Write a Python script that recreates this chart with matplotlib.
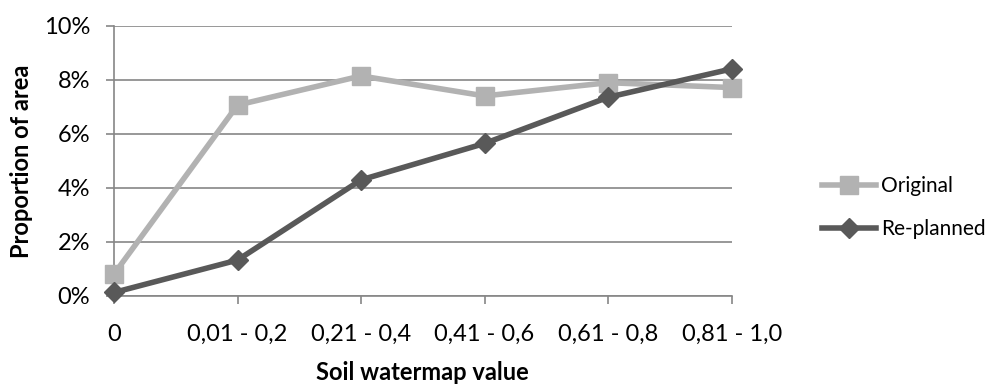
import matplotlib.pyplot as plt

plt.rcParams['font.family'] = ['Lato', 'DejaVu Sans']

categories = ["0", "0,01 - 0,2", "0,21 - 0,4", "0,41 - 0,6", "0,61 - 0,8", "0,81 - 1,0"]
original = [0.81, 7.07, 8.15, 7.41, 7.90, 7.72]
replanned = [0.13, 1.33, 4.30, 5.65, 7.36, 8.41]
yticks = [0, 2, 4, 6, 8, 10]

fig = plt.figure(figsize=(10.06, 3.85), dpi=100)
ax = fig.add_axes([0.1133, 0.2312, 0.614, 0.7013])

x = range(len(categories))
ax.plot(x, original, color="#b2b2b2", lw=4, marker="s", markersize=12.5,
        label="Original", clip_on=False, zorder=3)
ax.plot(x, replanned, color="#595959", lw=4, marker="D", markersize=10,
        label="Re-planned", clip_on=False, zorder=4)

ax.set_xlim(0, len(categories) - 1)
ax.set_ylim(0, 10)
ax.set_xticks(list(x))
ax.set_xticklabels(categories)
ax.set_yticks(yticks)
ax.set_yticklabels([f"{v}%" for v in yticks])

ax.grid(axis="y", color="#868686", lw=1.2)
ax.set_axisbelow(True)
for s in ["top", "right"]:
    ax.spines[s].set_visible(False)
for s in ["left", "bottom"]:
    ax.spines[s].set_color("#868686")
    ax.spines[s].set_linewidth(1.2)
ax.tick_params(axis="x", length=6, width=1.2, color="#868686", labelsize=17, pad=14)
ax.tick_params(axis="y", length=6, width=1.2, color="#868686", labelsize=17, pad=11)

ax.set_xlabel("Soil watermap value", fontsize=17, fontweight="bold", labelpad=12)
ax.set_ylabel("Proportion of area", fontsize=17, fontweight="bold", labelpad=8)

fig.legend(loc="center left", bbox_to_anchor=(0.817, 0.46), frameon=False,
           fontsize=15, handlelength=2.6, handletextpad=0.25, labelspacing=1.1,
           borderpad=0, borderaxespad=0)

fig.savefig("out.png", dpi=100)
